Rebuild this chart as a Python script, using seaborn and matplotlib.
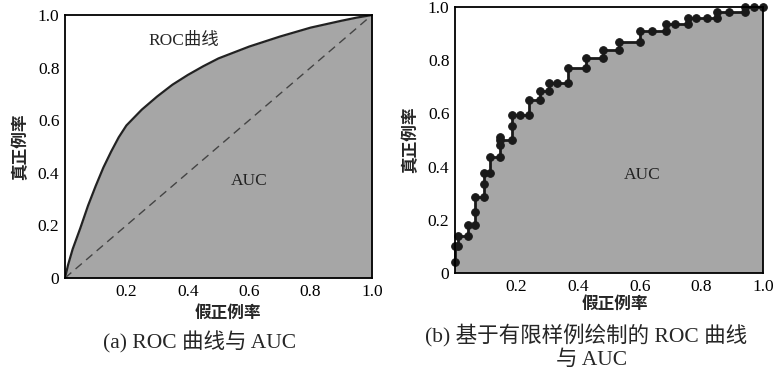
import matplotlib
matplotlib.use("Agg")
import matplotlib.pyplot as plt
import seaborn as sns
import pandas as pd

sns.set_theme(style="white")
plt.rcParams['font.family'] = ['Liberation Serif', 'Noto Sans CJK SC', 'DejaVu Sans']

# Panel (a): smooth ROC curve
roc_fpr = [0.0, 0.01, 0.025, 0.05, 0.075, 0.10, 0.125, 0.15, 0.175, 0.20, 0.25, 0.30, 0.35,
           0.40, 0.45, 0.50, 0.60, 0.70, 0.80, 0.90, 0.95, 1.0]
roc_tpr = [0.0, 0.05, 0.11, 0.19, 0.275, 0.35, 0.42, 0.48, 0.535, 0.58, 0.64, 0.69, 0.735,
           0.772, 0.805, 0.835, 0.88, 0.918, 0.952, 0.978, 0.99, 1.0]
diag = [0.0, 1.0]

# Panel (b): ROC from finite samples (staircase vertices)
step_fpr = [0.0, 0.0, 0.01, 0.01, 0.043, 0.043, 0.064, 0.064, 0.064, 0.095, 0.095, 0.095,
            0.115, 0.115, 0.146, 0.146, 0.146, 0.146, 0.184, 0.184, 0.184, 0.21, 0.241,
            0.241, 0.276, 0.276, 0.306, 0.306, 0.332, 0.368, 0.368, 0.424, 0.424, 0.479,
            0.479, 0.533, 0.533, 0.60, 0.60, 0.64, 0.686, 0.686, 0.715, 0.755, 0.755,
            0.783, 0.818, 0.85, 0.85, 0.89, 0.94, 0.94, 0.97, 1.0]
step_tpr = [0.04, 0.10, 0.10, 0.14, 0.14, 0.18, 0.18, 0.23, 0.286, 0.286, 0.336, 0.376,
            0.376, 0.436, 0.436, 0.48, 0.51, 0.50, 0.50, 0.554, 0.595, 0.595, 0.595,
            0.652, 0.652, 0.683, 0.683, 0.714, 0.714, 0.714, 0.77, 0.77, 0.81, 0.81,
            0.837, 0.837, 0.87, 0.87, 0.909, 0.909, 0.909, 0.937, 0.937, 0.937, 0.959,
            0.959, 0.959, 0.959, 0.98, 0.98, 0.98, 1.0, 1.0, 1.0]

x_ticks = [0.2, 0.4, 0.6, 0.8, 1.0]
x_ticklabels = ["0.2", "0.4", "0.6", "0.8", "1.0"]
y_ticks = [0.0, 0.2, 0.4, 0.6, 0.8, 1.0]
y_ticklabels = ["0", "0.2", "0.4", "0.6", "0.8", "1.0"]

fill_color = "#a6a6a6"
cjk = ['Noto Sans CJK SC', 'DejaVu Sans']
mixed = ['Liberation Serif', 'Noto Sans CJK SC']

fig = plt.figure(figsize=(7.79, 3.72), dpi=100)
ax1 = fig.add_axes([65/779, 1-278/372, 307/779, 263/372])
ax2 = fig.add_axes([455/779, 1-273/372, 308/779, 266/372])

# ---- panel (a)
df_a = pd.DataFrame({"fpr": roc_fpr, "tpr": roc_tpr})
ax1.fill_between(roc_fpr, roc_tpr, 0, color=fill_color, lw=0)
sns.lineplot(data=df_a, x="fpr", y="tpr", ax=ax1, color="#222222", lw=1.6,
             sort=False, estimator=None)
sns.lineplot(x=diag, y=diag, ax=ax1, color="#444444", lw=1.0, linestyle=(0, (6, 4)),
             estimator=None)
ax1.text(0.386, 0.9, "ROC曲线", fontsize=12.5, ha="center", va="center", family=mixed)
ax1.text(0.6, 0.37, "AUC", fontsize=12.5, ha="center", va="center", color="#222222")

# ---- panel (b)
df_b = pd.DataFrame({"fpr": step_fpr, "tpr": step_tpr})
ax2.fill_between(step_fpr, step_tpr, 0, color=fill_color, lw=0)
sns.lineplot(data=df_b, x="fpr", y="tpr", ax=ax2, color="#1a1a1a", lw=2.0, sort=False,
             estimator=None, marker="o", markersize=5.5,
             markeredgecolor="#1a1a1a", markerfacecolor="#1a1a1a", clip_on=False)
ax2.text(0.607, 0.37, "AUC", fontsize=12.5, ha="center", va="center", color="#222222")

for ax in (ax1, ax2):
    ax.set_xlim(0, 1)
    ax.set_ylim(0, 1)
    ax.set_xticks(x_ticks)
    ax.set_xticklabels(x_ticklabels, fontsize=12.5)
    ax.set_yticks(y_ticks)
    ax.set_yticklabels(y_ticklabels, fontsize=12.5)
    ax.tick_params(direction="in", length=3, width=0.8, colors="black", pad=4)
    for s in ax.spines.values():
        s.set_color("black")
        s.set_linewidth(1.3)
    ax.set_xlabel("")
    ax.set_ylabel("")
    ax.set_facecolor("white")
    ax.grid(False)

ax1.set_ylabel("真正例率", fontsize=12, family=cjk, fontweight="bold", labelpad=6)
ax1.set_xlabel("假正例率", fontsize=12, family=cjk, fontweight="bold")
ax1.xaxis.set_label_coords(0.53, -0.10)
ax2.set_ylabel("真正例率", fontsize=12, family=cjk, fontweight="bold", labelpad=6)
ax2.set_xlabel("假正例率", fontsize=12, family=cjk, fontweight="bold")
ax2.xaxis.set_label_coords(0.52, -0.083)

fig.text(200/779, 1-342/372, "(a) ROC 曲线与 AUC", fontsize=15.5, ha="center", va="center", family=mixed)
fig.text(586/779, 1-335/372, "(b) 基于有限样例绘制的 ROC 曲线", fontsize=15.5, ha="center", va="center", family=mixed)
fig.text(592/779, 1-360/372, "与 AUC", fontsize=15.5, ha="center", va="center", family=mixed)

fig.savefig("out.png", dpi=100)
